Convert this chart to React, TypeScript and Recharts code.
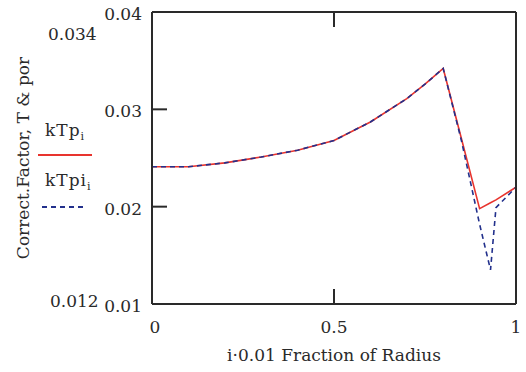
import React from 'react';
import { LineChart, Line, XAxis, YAxis, Legend } from 'recharts';

// fraction of radius (i·0.01)
const radius = [0, 0.1, 0.2, 0.3, 0.4, 0.5, 0.6, 0.7, 0.75, 0.8, 0.85, 0.9, 0.93, 0.945, 1];
// correction factor, temperature & porosity
const kTp = [0.0241, 0.0241, 0.0245, 0.0251, 0.0258, 0.0268, 0.0287, 0.0311, 0.0326, 0.0342, 0.027, 0.0198, 0.0204, 0.0207, 0.022];
const kTpi = [0.0241, 0.0241, 0.0245, 0.0251, 0.0258, 0.0268, 0.0287, 0.0311, 0.0326, 0.0342, 0.0268, 0.0182, 0.0135, 0.0199, 0.022];

const xTicks = [0, 0.5, 1];
const yTicks = [0.01, 0.02, 0.03, 0.04];
const yLimits = ['0.034', '0.012'];

const data = radius.map((r, i) => ({ r, kTp: kTp[i], kTpi: kTpi[i] }));

const FONT = '"DejaVu Serif", serif';
const INK = '#2a2a2a';
const TICK = 15;

const LeftTick = ({ x, y, payload }: any) => (
  <g>
    <line x1={x + 10} x2={x + 10 + TICK} y1={y} y2={y} stroke={INK} strokeWidth={2} />
    <text x={x} y={y + 8} textAnchor="end" fontFamily={FONT} fontSize={17} fill={INK}>
      {payload.value}
    </text>
  </g>
);

const RightTick = ({ x, y }: any) => (
  <line x1={x - TICK} x2={x} y1={y} y2={y} stroke={INK} strokeWidth={2} />
);

const TopTick = ({ x, y }: any) => (
  <line x1={x} x2={x} y1={y} y2={y + TICK} stroke={INK} strokeWidth={2} />
);

const BottomTick = ({ x, y, payload }: any) => (
  <g>
    <line x1={x} x2={x} y1={y} y2={y - TICK} stroke={INK} strokeWidth={2} />
    <text x={x + (payload.value === 0 ? 3 : 0)} y={y + 29} textAnchor="middle" fontFamily={FONT} fontSize={17} fill={INK}>
      {payload.value}
    </text>
  </g>
);

// Mathcad-style legend plus the y-range markers on the left side
const SideLegend = ({ payload }: any) => (
  <svg width={110} height={372} style={{ display: 'block' }}>
    <text x={48} y={40} fontFamily={FONT} fontSize={17} fill={INK}>{yLimits[0]}</text>
    <text x={50} y={307} fontFamily={FONT} fontSize={17} fill={INK}>{yLimits[1]}</text>
    {(payload || []).map((entry: any, i: number) => (
      <g key={entry.value}>
        <text x={45} y={136 + i * 50} fontFamily={FONT} fontSize={17} fill={INK} letterSpacing={1}>
          {entry.value}
          <tspan fontSize={11} dy={4}>i</tspan>
        </text>
        <line
          x1={38 + i * 4}
          x2={92 - i * 8}
          y1={155 + i * 52}
          y2={155 + i * 52}
          stroke={entry.color}
          strokeWidth={2}
          strokeDasharray={entry.payload?.strokeDasharray}
        />
      </g>
    ))}
  </svg>
);

export default function App() {
  return (
    <div style={{ position: 'absolute', left: 0, top: 0, background: '#fff' }}>
      <LineChart width={526} height={372} data={data} margin={{ top: 11, right: 9, bottom: 0, left: 0 }}>
        <XAxis
          dataKey="r"
          type="number"
          domain={[0, 1]}
          ticks={xTicks}
          interval={0}
          height={68}
          tickSize={0}
          tickMargin={0}
          tickLine={false}
          tick={<BottomTick />}
          axisLine={{ stroke: INK, strokeWidth: 2 }}
          label={{
            value: 'i·0.01 Fraction of Radius',
            position: 'insideBottom',
            offset: 11,
            style: { fontFamily: FONT, fontSize: 17, fill: INK },
          }}
        />
        <XAxis
          xAxisId="t"
          orientation="top"
          dataKey="r"
          type="number"
          domain={[0, 1]}
          ticks={xTicks}
          interval={0}
          height={1}
          tickSize={0}
          tickMargin={0}
          tickLine={false}
          tick={<TopTick />}
          axisLine={{ stroke: INK, strokeWidth: 2 }}
        />
        <YAxis
          type="number"
          domain={[0.01, 0.04]}
          ticks={yTicks}
          interval={0}
          width={152}
          tickSize={0}
          tickMargin={10}
          tickLine={false}
          tick={<LeftTick />}
          axisLine={{ stroke: INK, strokeWidth: 2 }}
          label={{
            value: 'Correct.Factor, T & por',
            angle: -90,
            position: 'insideLeft',
            offset: 23,
            style: { textAnchor: 'middle', fontFamily: FONT, fontSize: 17, fill: INK },
          }}
        />
        <YAxis
          yAxisId="r"
          orientation="right"
          type="number"
          domain={[0.01, 0.04]}
          ticks={yTicks}
          interval={0}
          width={1}
          tickSize={0}
          tickMargin={0}
          tickLine={false}
          tick={<RightTick />}
          axisLine={{ stroke: INK, strokeWidth: 2 }}
        />
        <Legend
          layout="vertical"
          align="center"
          verticalAlign="middle"
          wrapperStyle={{ left: 0, top: 0, width: 110, height: 372 }}
          content={<SideLegend />}
        />
        <Line
          dataKey="kTp"
          name="kTp"
          type="linear"
          stroke="#e8342e"
          strokeWidth={1.6}
          dot={false}
          isAnimationActive={false}
        />
        <Line
          dataKey="kTpi"
          name="kTpi"
          type="linear"
          stroke="#22308c"
          strokeWidth={1.6}
          strokeDasharray="5 4"
          dot={false}
          isAnimationActive={false}
        />
      </LineChart>
    </div>
  );
}
